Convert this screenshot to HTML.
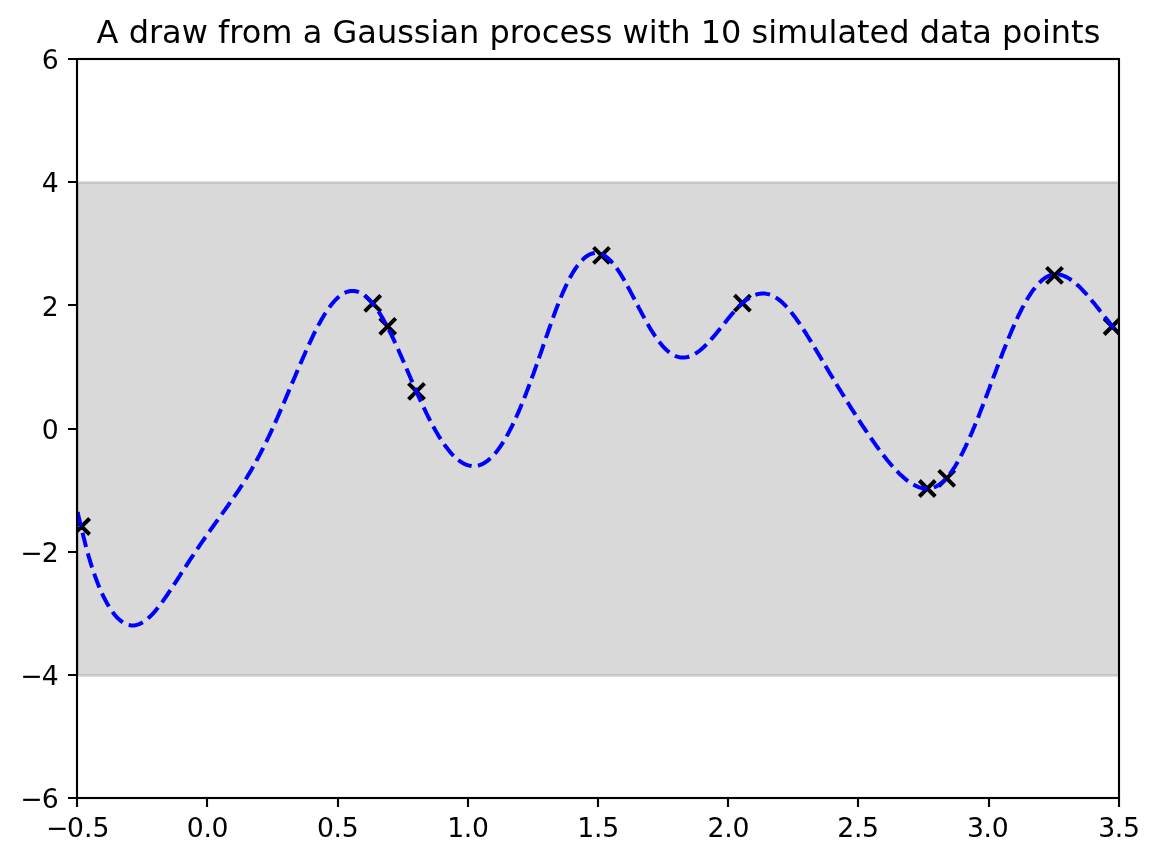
<!DOCTYPE html>
<html lang="en"><head><meta charset="utf-8"><title>A draw from a Gaussian process</title>
<style>
html,body{margin:0;padding:0;background:#fff;}
body{width:1159px;height:862px;overflow:hidden;}
svg{display:block;}
svg text{font-family:"DejaVu Sans","Liberation Sans",sans-serif;fill:#000;}
.tick text{font-size:26.67px;}
.title{font-size:32px;}
</style></head><body>
<svg width="1159" height="862" viewBox="0 0 1159 862">
<rect width="1159" height="862" fill="#fff"/>
<defs><clipPath id="ax"><rect x="77.15" y="59.0" width="1041.6" height="739.2"/></clipPath></defs>
<g clip-path="url(#ax)">
<rect x="77.5" y="182.5" width="1042" height="493" fill="#808080" fill-opacity="0.3" stroke="#808080" stroke-opacity="0.3" stroke-width="2.67"/>
<path d="M73.60,518.50L89.60,534.50M73.60,534.50L89.60,518.50M364.70,295.40L380.70,311.40M364.70,311.40L380.70,295.40M379.70,318.40L395.70,334.40M379.70,334.40L395.70,318.40M408.50,383.30L424.50,399.30M408.50,399.30L424.50,383.30M593.50,247.40L609.50,263.40M593.50,263.40L609.50,247.40M734.40,295.10L750.40,311.10M734.40,311.10L750.40,295.10M919.30,480.50L935.30,496.50M919.30,496.50L935.30,480.50M938.70,470.40L954.70,486.40M938.70,486.40L954.70,470.40M1046.50,267.30L1062.50,283.30M1046.50,283.30L1062.50,267.30M1104.10,318.50L1120.10,334.50M1104.10,334.50L1120.10,318.50" fill="none" stroke="#000" stroke-width="4.0"/>
<path id="curve" d="M77.6,512.0L78.0,513.6L78.3,515.2L78.7,516.9L79.1,518.5L79.4,520.1L79.8,521.7L80.2,523.3L80.6,524.9L81.0,526.5M82.5,532.7L82.9,534.3L83.3,535.9L83.7,537.5L84.1,539.1L84.5,540.7L84.9,542.3L85.3,543.9L85.7,545.5L86.1,547.1M87.8,553.3L88.3,554.9L88.7,556.5L89.2,558.1L89.7,559.7L90.1,561.2L90.6,562.8L91.1,564.4L91.6,566.0L92.1,567.5M94.2,573.6L94.7,575.2L95.3,576.7L95.8,578.3L96.4,579.8L97.0,581.4L97.6,582.9L98.2,584.4L98.8,586.0L99.4,587.5M102.0,593.4L102.7,594.9L103.4,596.4L104.2,597.8L104.9,599.3L105.7,600.8L106.5,602.2L107.3,603.7L108.1,605.1L108.9,606.5M112.5,611.9L113.5,613.2L114.5,614.5L115.5,615.7L116.6,617.0L117.8,618.2L119.0,619.3L120.2,620.4L121.5,621.4L122.8,622.4M128.7,625.0L130.3,625.3L131.9,625.5L133.6,625.5L135.2,625.3L136.8,624.9L138.4,624.4L139.9,623.8L141.4,623.1L142.8,622.3M148.0,618.4L149.2,617.3L150.4,616.2L151.6,615.0L152.7,613.8L153.8,612.6L154.9,611.4L156.0,610.1L157.0,608.8L158.0,607.5M161.9,602.4L162.9,601.1L163.9,599.7L164.8,598.4L165.7,597.0L166.7,595.7L167.6,594.3L168.5,592.9L169.4,591.6L170.4,590.2M173.9,584.8L174.8,583.4L175.7,582.1L176.6,580.7L177.5,579.3L178.4,577.9L179.3,576.5L180.2,575.1L181.0,573.7L181.9,572.4M185.4,567.0L186.3,565.6L187.2,564.2L188.1,562.8L189.0,561.4L189.9,560.0L190.8,558.7L191.7,557.3L192.7,555.9L193.6,554.5M197.1,549.2L198.1,547.8L199.0,546.5L199.9,545.1L200.9,543.7L201.8,542.4L202.7,541.0L203.7,539.7L204.6,538.3L205.5,537.0M209.2,531.7L210.2,530.4L211.1,529.0L212.1,527.7L213.1,526.3L214.0,525.0L215.0,523.6L215.9,522.3L216.9,521.0L217.9,519.6M221.6,514.4L222.6,513.1L223.6,511.7L224.5,510.4L225.5,509.1L226.4,507.7L227.4,506.4L228.4,505.0L229.3,503.7L230.3,502.3M233.9,497.1L234.9,495.7L235.8,494.4L236.7,493.0L237.7,491.6L238.6,490.3L239.5,488.9L240.4,487.5L241.3,486.1L242.2,484.8M245.7,479.3L246.5,477.9L247.4,476.5L248.2,475.1L249.1,473.7L249.9,472.3L250.8,470.9L251.6,469.4L252.4,468.0L253.2,466.6M256.4,461.0L257.1,459.5L257.9,458.0L258.7,456.6L259.5,455.1L260.2,453.7L261.0,452.2L261.7,450.7L262.5,449.3L263.2,447.8M266.1,442.0L266.8,440.6L267.5,439.1L268.2,437.6L269.0,436.1L269.7,434.6L270.4,433.1L271.1,431.6L271.8,430.1L272.4,428.6M275.1,422.8L275.8,421.3L276.4,419.8L277.1,418.3L277.8,416.7L278.5,415.2L279.1,413.7L279.8,412.2L280.4,410.7L281.1,409.2M283.6,403.3L284.3,401.8L284.9,400.3L285.6,398.7L286.2,397.2L286.9,395.7L287.5,394.2L288.2,392.7L288.8,391.1L289.4,389.6M291.9,383.7L292.6,382.2L293.2,380.7L293.9,379.2L294.5,377.6L295.2,376.1L295.8,374.6L296.4,373.1L297.1,371.6L297.7,370.0M300.3,364.1L300.9,362.6L301.6,361.1L302.2,359.6L302.9,358.1L303.5,356.6L304.2,355.1L304.9,353.5L305.5,352.0L306.2,350.5M308.9,344.7L309.6,343.2L310.3,341.7L311.0,340.2L311.7,338.7L312.4,337.2L313.1,335.7L313.8,334.2L314.5,332.8L315.3,331.3M318.2,325.6L319.0,324.1L319.8,322.7L320.6,321.2L321.4,319.8L322.2,318.4L323.1,317.0L323.9,315.5L324.8,314.1L325.7,312.8M329.3,307.4L330.3,306.1L331.3,304.8L332.3,303.5L333.4,302.3L334.5,301.0L335.6,299.8L336.8,298.7L338.0,297.5L339.2,296.5M344.6,292.9L346.1,292.2L347.6,291.7L349.2,291.3L350.8,291.0L352.5,290.9L354.1,291.0L355.8,291.2L357.4,291.6L358.9,292.2M364.5,295.4L365.8,296.4L367.0,297.5L368.2,298.6L369.4,299.8L370.5,301.0L371.6,302.2L372.7,303.5L373.7,304.7L374.7,306.1M378.4,311.3L379.3,312.7L380.2,314.1L381.0,315.5L381.9,316.9L382.7,318.3L383.5,319.8L384.3,321.2L385.1,322.7L385.9,324.1M388.9,329.8L389.6,331.3L390.4,332.7L391.1,334.2L391.8,335.7L392.5,337.2L393.2,338.7L393.9,340.2L394.6,341.7L395.3,343.2M398.0,349.0L398.7,350.5L399.3,352.0L400.0,353.5L400.7,355.1L401.3,356.6L402.0,358.1L402.6,359.6L403.3,361.1L404.0,362.6M406.5,368.5L407.1,370.0L407.8,371.6L408.4,373.1L409.1,374.6L409.7,376.1L410.4,377.6L411.0,379.1L411.7,380.6L412.4,382.2M414.9,388.0L415.6,389.6L416.2,391.1L416.9,392.6L417.6,394.1L418.2,395.6L418.9,397.1L419.6,398.6L420.3,400.1L421.0,401.6M423.7,407.4L424.4,408.9L425.1,410.4L425.8,411.9L426.5,413.4L427.3,414.9L428.0,416.3L428.7,417.8L429.5,419.3L430.2,420.8M433.2,426.4L434.0,427.8L434.8,429.3L435.6,430.7L436.4,432.1L437.3,433.5L438.1,434.9L438.9,436.3L439.8,437.7L440.7,439.1M444.2,444.4L445.2,445.7L446.2,447.0L447.2,448.3L448.2,449.6L449.2,450.9L450.3,452.2L451.3,453.4L452.4,454.6L453.6,455.8M458.3,460.0L459.6,461.0L461.0,461.9L462.4,462.8L463.8,463.6L465.3,464.3L466.8,464.9L468.4,465.4L470.0,465.7L471.6,466.0M477.9,465.6L479.5,465.2L481.0,464.6L482.5,463.9L483.9,463.2L485.3,462.3L486.7,461.4L488.0,460.4L489.2,459.4L490.4,458.3M494.8,453.7L495.9,452.5L496.9,451.2L497.9,449.9L498.8,448.6L499.8,447.3L500.7,445.9L501.6,444.6L502.5,443.2L503.4,441.8M506.6,436.4L507.4,434.9L508.2,433.5L508.9,432.1L509.7,430.6L510.4,429.2L511.2,427.7L511.9,426.3L512.6,424.8L513.3,423.3M516.0,417.6L516.7,416.1L517.3,414.6L518.0,413.1L518.7,411.6L519.3,410.0L520.0,408.5L520.6,407.0L521.2,405.5L521.9,404.0M524.3,398.1L524.9,396.5L525.5,395.0L526.1,393.5L526.6,391.9L527.2,390.4L527.8,388.9L528.4,387.3L529.0,385.8L529.6,384.3M531.8,378.3L532.3,376.7L532.9,375.2L533.5,373.6L534.0,372.1L534.6,370.5L535.1,369.0L535.7,367.4L536.2,365.9L536.8,364.3M538.9,358.3L539.4,356.7L540.0,355.2L540.5,353.6L541.1,352.0L541.6,350.5L542.2,348.9L542.7,347.3L543.2,345.7L543.8,344.2M545.9,338.0L546.4,336.4L547.0,334.9L547.5,333.3L548.1,331.7L548.6,330.1L549.2,328.5L549.7,327.0L550.3,325.4L550.8,323.8M553.0,317.7L553.6,316.1L554.2,314.5L554.8,313.0L555.3,311.4L555.9,309.8L556.5,308.3L557.1,306.7L557.7,305.2L558.3,303.6M560.8,297.6L561.4,296.0L562.1,294.5L562.7,292.9L563.4,291.4L564.1,289.9L564.8,288.4L565.5,286.8L566.2,285.3L566.9,283.8M569.8,278.0L570.6,276.6L571.5,275.1L572.3,273.6L573.1,272.2L574.0,270.8L574.9,269.4L575.9,268.0L576.8,266.6L577.8,265.3M582.0,260.3L583.2,259.1L584.4,258.0L585.7,256.9L587.1,256.0L588.5,255.1L590.0,254.3L591.5,253.7L593.2,253.3L594.8,253.0M601.1,254.0L602.7,254.6L604.1,255.4L605.5,256.3L606.8,257.3L608.1,258.3L609.3,259.5L610.5,260.6L611.6,261.8L612.7,263.1M616.6,268.1L617.6,269.5L618.5,270.9L619.4,272.2L620.3,273.6L621.2,275.0L622.0,276.4L622.9,277.9L623.7,279.3L624.5,280.7M627.6,286.3L628.4,287.8L629.2,289.2L630.0,290.7L630.7,292.1L631.5,293.6L632.3,295.1L633.0,296.5L633.8,298.0L634.6,299.5M637.5,305.2L638.3,306.6L639.0,308.1L639.8,309.6L640.6,311.0L641.3,312.5L642.1,313.9L642.9,315.4L643.7,316.8L644.5,318.3M647.6,323.9L648.4,325.3L649.2,326.7L650.1,328.2L650.9,329.6L651.8,331.0L652.7,332.4L653.6,333.8L654.5,335.2L655.4,336.5M659.1,341.7L660.2,343.0L661.2,344.3L662.3,345.6L663.4,346.8L664.5,348.0L665.7,349.2L666.9,350.3L668.1,351.4L669.4,352.4M674.9,355.7L676.4,356.4L678.0,356.9L679.6,357.3L681.2,357.5L682.9,357.6L684.5,357.5L686.1,357.3L687.8,357.0L689.3,356.5M695.1,353.8L696.5,352.9L697.9,352.0L699.2,351.0L700.5,350.0L701.8,348.9L703.0,347.8L704.2,346.7L705.4,345.5L706.6,344.4M710.9,339.7L712.0,338.4L713.1,337.2L714.2,335.9L715.2,334.7L716.3,333.4L717.3,332.1L718.4,330.8L719.4,329.6L720.4,328.3M724.4,323.3L725.5,322.0L726.5,320.7L727.5,319.4L728.6,318.1L729.6,316.8L730.7,315.6L731.7,314.3L732.8,313.1L733.9,311.8M738.3,307.1L739.4,305.9L740.6,304.8L741.8,303.6L743.0,302.5L744.3,301.5L745.6,300.4L746.9,299.5L748.3,298.5L749.7,297.6M755.4,294.8L757.0,294.3L758.6,293.9L760.2,293.7L761.9,293.5L763.5,293.5L765.2,293.6L766.8,293.9L768.4,294.2L770.0,294.7M775.7,297.5L777.1,298.4L778.5,299.4L779.8,300.4L781.0,301.4L782.3,302.5L783.5,303.7L784.7,304.8L785.8,306.0L786.9,307.2M791.1,312.1L792.1,313.4L793.1,314.7L794.1,316.0L795.1,317.3L796.1,318.7L797.0,320.0L798.0,321.4L798.9,322.7L799.9,324.1M803.4,329.4L804.3,330.8L805.2,332.2L806.1,333.6L806.9,335.0L807.8,336.4L808.7,337.8L809.5,339.2L810.4,340.6L811.3,342.0M814.6,347.5L815.4,348.9L816.3,350.4L817.1,351.8L818.0,353.2L818.8,354.6L819.7,356.0L820.5,357.4L821.3,358.9L822.2,360.3M825.5,365.8L826.3,367.2L827.1,368.6L828.0,370.1L828.8,371.5L829.7,372.9L830.5,374.3L831.4,375.7L832.2,377.1L833.1,378.6M836.4,384.1L837.2,385.5L838.1,386.9L838.9,388.3L839.8,389.7L840.7,391.1L841.5,392.5L842.4,393.9L843.3,395.3L844.1,396.7M847.5,402.2L848.4,403.6L849.3,405.0L850.1,406.4L851.0,407.8L851.9,409.2L852.8,410.6L853.7,412.0L854.6,413.3L855.4,414.7M858.9,420.1L859.8,421.5L860.7,422.9L861.6,424.3L862.5,425.7L863.4,427.0L864.4,428.4L865.3,429.8L866.2,431.1L867.1,432.5M870.7,437.8L871.7,439.2L872.6,440.5L873.6,441.9L874.5,443.2L875.5,444.6L876.4,445.9L877.4,447.2L878.4,448.6L879.4,449.9M883.2,455.0L884.2,456.3L885.3,457.6L886.3,458.9L887.3,460.2L888.4,461.5L889.4,462.7L890.5,464.0L891.6,465.3L892.7,466.5M897.0,471.2L898.2,472.4L899.3,473.6L900.5,474.7L901.7,475.8L902.9,476.9L904.2,478.0L905.5,479.1L906.7,480.1L908.1,481.1M913.4,484.6L914.9,485.4L916.4,486.1L917.9,486.8L919.4,487.3L921.0,487.8L922.6,488.2L924.3,488.4L925.9,488.6L927.5,488.6M933.8,487.4L935.3,486.8L936.8,486.1L938.2,485.3L939.6,484.4L940.9,483.4L942.2,482.4L943.4,481.3L944.6,480.2L945.7,479.0M949.8,474.1L950.7,472.8L951.7,471.5L952.6,470.1L953.5,468.7L954.4,467.4L955.3,466.0L956.1,464.6L956.9,463.2L957.7,461.7M960.8,456.2L961.5,454.7L962.3,453.2L963.0,451.8L963.7,450.3L964.5,448.8L965.2,447.4L965.9,445.9L966.6,444.4L967.2,442.9M969.9,437.1L970.5,435.6L971.2,434.1L971.8,432.6L972.5,431.1L973.1,429.6L973.7,428.1L974.4,426.6L975.0,425.1L975.6,423.6M978.0,417.7L978.6,416.2L979.2,414.7L979.8,413.1L980.4,411.6L981.0,410.1L981.6,408.6L982.2,407.1L982.8,405.5L983.4,404.0M985.6,398.1L986.2,396.5L986.8,395.0L987.4,393.5L987.9,392.0L988.5,390.4L989.1,388.9L989.7,387.4L990.2,385.8L990.8,384.3M993.0,378.4L993.6,376.8L994.2,375.3L994.8,373.7L995.4,372.2L995.9,370.7L996.5,369.1L997.1,367.6L997.7,366.0L998.3,364.5M1000.6,358.5L1001.1,356.9L1001.7,355.4L1002.3,353.8L1002.9,352.3L1003.5,350.7L1004.2,349.2L1004.8,347.6L1005.4,346.1L1006.0,344.6M1008.4,338.6L1009.0,337.0L1009.7,335.5L1010.3,334.0L1011.0,332.5L1011.6,330.9L1012.3,329.4L1012.9,327.9L1013.6,326.4L1014.3,324.8M1016.9,319.0L1017.6,317.5L1018.3,316.0L1019.1,314.5L1019.8,313.0L1020.5,311.5L1021.3,310.0L1022.0,308.5L1022.8,307.1L1023.6,305.6M1026.7,300.0L1027.5,298.6L1028.4,297.2L1029.3,295.8L1030.2,294.4L1031.1,293.0L1032.0,291.6L1033.0,290.3L1034.0,289.0L1035.0,287.7M1039.2,282.8L1040.4,281.7L1041.6,280.6L1042.9,279.5L1044.2,278.5L1045.6,277.6L1047.0,276.8L1048.5,276.0L1050.0,275.4L1051.6,274.9M1057.9,274.4L1059.6,274.6L1061.2,275.0L1062.8,275.5L1064.3,276.1L1065.9,276.8L1067.3,277.5L1068.8,278.4L1070.2,279.3L1071.6,280.2M1076.6,284.3L1077.8,285.4L1079.1,286.5L1080.3,287.7L1081.4,288.9L1082.6,290.1L1083.7,291.3L1084.9,292.5L1086.0,293.7L1087.1,295.0M1091.3,299.9L1092.3,301.2L1093.4,302.5L1094.5,303.8L1095.5,305.1L1096.5,306.4L1097.6,307.7L1098.6,309.0L1099.6,310.3L1100.7,311.6M1104.7,316.7L1105.7,318.0L1106.8,319.3L1107.8,320.6L1108.9,321.9L1109.9,323.2L1111.0,324.5L1112.0,325.8L1113.1,327.1L1114.2,328.3M1118.5,333.2L1119.0,333.7" fill="none" stroke="#0000ff" stroke-width="4.0" stroke-linejoin="round"/>
</g>
<path d="M77,798v9.0M207,798v9.0M338,798v9.0M468,798v9.0M598,798v9.0M728,798v9.0M858,798v9.0M989,798v9.0M1119,798v9.0M77,798h-9.0M77,675h-9.0M77,552h-9.0M77,429h-9.0M77,305h-9.0M77,182h-9.0M77,59h-9.0" fill="none" stroke="#000" stroke-width="2.13"/>
<rect x="77" y="59" width="1042" height="739" fill="none" stroke="#000" stroke-width="2.13" stroke-linejoin="miter"/>
<g class="tick"><text y="837.1"><tspan x="45.97">−</tspan><tspan x="67.12">0.5</tspan></text><text x="207.50" y="837.1" text-anchor="middle" letter-spacing="-0.3">0.0</text><text x="337.70" y="837.1" text-anchor="middle" letter-spacing="-0.3">0.5</text><text x="467.90" y="837.1" text-anchor="middle" letter-spacing="-0.3">1.0</text><text x="598.10" y="837.1" text-anchor="middle" letter-spacing="-0.3">1.5</text><text x="728.30" y="837.1" text-anchor="middle" letter-spacing="-0.3">2.0</text><text x="858.00" y="837.1" text-anchor="middle" letter-spacing="-0.3">2.5</text><text x="987.70" y="837.1" text-anchor="middle" letter-spacing="-0.3">3.0</text><text x="1118.90" y="837.1" text-anchor="middle" letter-spacing="-0.3">3.5</text><text y="808.30" text-anchor="end"><tspan x="42.64">−</tspan><tspan x="58.6">6</tspan></text><text y="685.10" text-anchor="end"><tspan x="42.64">−</tspan><tspan x="58.6">4</tspan></text><text y="561.90" text-anchor="end"><tspan x="42.64">−</tspan><tspan x="58.6">2</tspan></text><text x="58.6" y="438.70" text-anchor="end">0</text><text x="58.6" y="315.50" text-anchor="end">2</text><text x="58.6" y="192.30" text-anchor="end">4</text><text x="58.6" y="69.10" text-anchor="end">6</text></g>
<text class="title" x="598.45" y="42.7" text-anchor="middle">A draw from a Gaussian process with 10 simulated data points</text>
</svg>
</body></html>
